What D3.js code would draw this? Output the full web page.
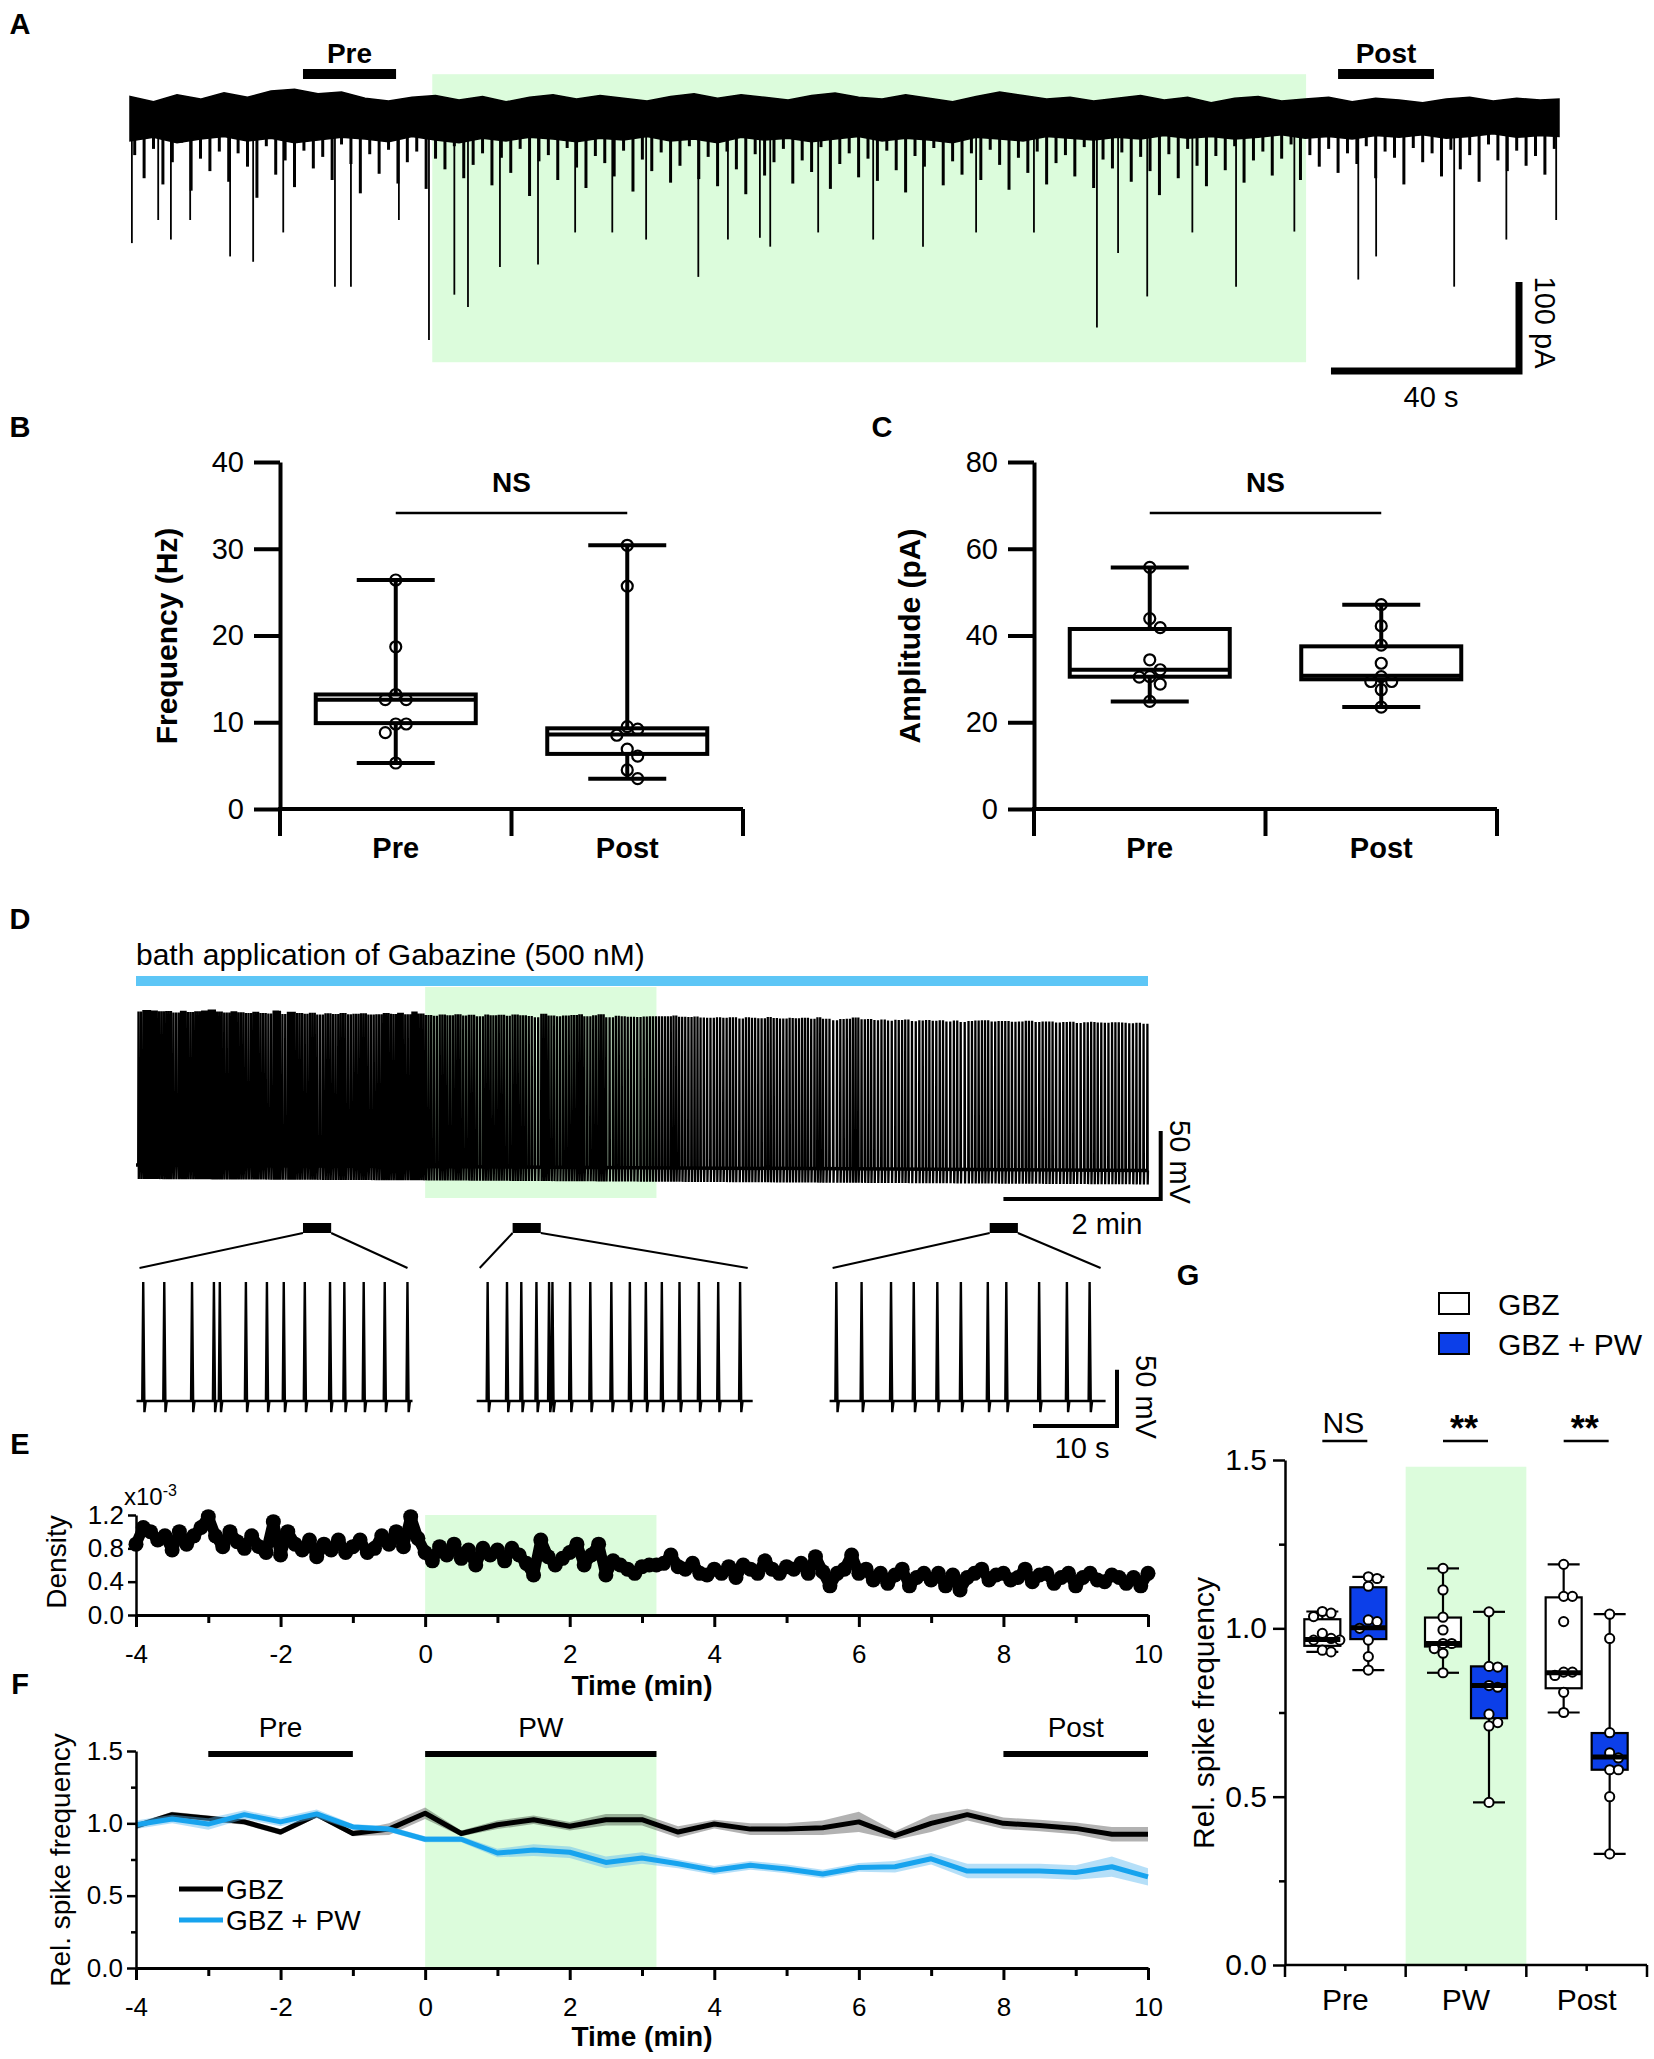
<!DOCTYPE html>
<html>
<head>
<meta charset="utf-8">
<script src="https://cdn.jsdelivr.net/npm/d3@7"></script>
<style>
  body { margin: 0; background: #fff; }
  svg { display: block; font-family: "Liberation Sans", Arial, sans-serif; }
</style>
</head>
<body>
<svg id="fig" width="1654" height="2059"></svg>
<script>
// ---------------- data ----------------
// A: sEPSC trace (time in s, current in pA); envelope every 5 s, small events every 2 s
const aTime = d3.range(0, 301, 5).concat([304]);
const aTop = [4,-2,6,1,8,3,10,12,7,9, 2,-1,3,5,0,4,-2,3,6,1, 5,2,-1,4,7,2,6,3,0,5,
  8,3,1,6,2,-2,4,9,5,1, 3,-1,2,5,0,3,-3,2,4,-1, 1,3,-2,2,0,-3,1,3,-1,2, 0,1];
const aBot = [-46,-42,-48,-44,-41,-46,-43,-48,-45,-42, -44,-47,-41,-45,-48,-43,-46,-42,-44,-47,
  -43,-45,-41,-46,-44,-48,-42,-45,-43,-47, -44,-41,-46,-43,-45,-48,-42,-44,-46,-41,
  -43,-45,-42,-44,-40,-43,-41,-44,-42,-39, -43,-41,-44,-40,-42,-39,-43,-41,-38,-42, -40,-41];
const aSmallStart = 1, aSmallStep = 2;
const aSmall = [
  -62,-88,-55,-95,-70,-48,-102,-66,-80,-58, -92,-60,-75,-110,-52,-84,-68,-98,-57,-77,
  -64,-90,-50,-72,-105,-61,-83,-56,-94,-70, -58,-100,-66,-78,-52,-88,-73,-60,-96,-65,
  -82,-55,-108,-69,-62,-90,-54,-76,-99,-63, -71,-86,-57,-103,-67,-80,-59,-93,-74,-52,
  -89,-64,-97,-58,-78,-106,-61,-85,-70,-55, -94,-68,-81,-53,-100,-72,-60,-87,-66,-91,
  -57,-79,-104,-63,-75,-54,-96,-69,-84,-60, -90,-56,-73,-101,-65,-82,-58,-95,-71,-62,
  -86,-53,-99,-67,-77,-59,-92,-64,-80,-107, -61,-88,-55,-74,-97,-63,-79,-52,-93,-68,
  -58,-85,-66,-50,-90,-62,-75,-55,-82,-60, -72,-52,-88,-58,-65,-95,-54,-70,-60,-86,
  -56,-78,-62,-92,-50,-68,-80,-57,-74,-63, -84,-55
];
const aEvents = [
  [0.4,-161],[6,-135],[8.7,-157],[12.8,-135],[21.3,-176],[26.2,-182],[32.6,-149],[43.6,-210],[47,-210],[57.2,-135],
  [63.6,-270],[69,-219],[71.9,-233],[78.7,-188],[86.8,-185],[94.7,-149],[102.6,-149],[109.8,-157],[120.9,-199],[127.2,-157],
  [134,-155],[136.2,-165],[146.4,-149],[158.1,-157],[168.7,-165],[180,-149],[192.3,-149],[205.7,-256],[210.2,-172],[216.4,-221],
  [226,-149],[235.3,-210],[247.7,-148],[261.3,-202],[265.1,-176],[281.7,-210],[292.8,-157],[303.4,-135]
];
const aWash = [64.3, 250.2];
const aWindows = [["Pre", 36.8, 56.6], ["Post", 257.0, 277.4]];

// B, C: box plots
const bcCats = ["Pre", "Post"];
const freqPre  = [26.4, 18.7, 13.2, 12.6, 12.6, 9.8, 9.8, 8.8, 5.3];
const freqPost = [30.4, 25.7, 9.5, 9.2, 8.5, 6.9, 6.1, 4.5, 3.5];
const freqStats = [[9.9, 12.6, 13.2], [6.35, 8.6, 9.3]];      // q1, median, q3
const ampPre  = [55.7, 43.9, 41.8, 34.4, 32.1, 30.4, 30.5, 28.8, 24.8];
const ampPost = [47.1, 42.2, 37.8, 33.6, 30.5, 29.4, 29.4, 27.5, 23.5];
const ampStats = [[30.5, 32.1, 41.5], [29.9, 30.7, 37.5]];

// E: spike density (x10^-3), one value every 0.1 min from -4 to 10
const eStart = -4, eStep = 0.1;
const eDensity = [
  0.85,1.05,1.0,0.9,0.95,0.78,1.0,0.85,0.95,1.05,
  1.18,0.95,0.82,1.0,0.88,0.8,0.95,0.82,0.75,1.12,
  0.72,1.0,0.85,0.78,0.9,0.7,0.85,0.78,0.9,0.75,
  0.82,0.9,0.75,0.8,0.95,0.85,1.0,0.82,1.18,0.92,
  0.75,0.65,0.82,0.72,0.85,0.68,0.78,0.6,0.8,0.72,
  0.78,0.65,0.8,0.72,0.62,0.48,0.9,0.7,0.6,0.68,
  0.75,0.85,0.6,0.72,0.85,0.48,0.65,0.6,0.55,0.5,
  0.58,0.6,0.6,0.62,0.72,0.58,0.55,0.62,0.5,0.48,
  0.55,0.5,0.58,0.45,0.6,0.55,0.5,0.65,0.55,0.5,
  0.58,0.55,0.62,0.5,0.7,0.52,0.35,0.5,0.55,0.72,
  0.5,0.55,0.42,0.5,0.38,0.48,0.55,0.35,0.45,0.5,
  0.42,0.5,0.35,0.48,0.3,0.45,0.5,0.55,0.42,0.48,
  0.5,0.42,0.45,0.55,0.4,0.48,0.5,0.38,0.45,0.5,
  0.35,0.45,0.5,0.42,0.4,0.48,0.45,0.38,0.45,0.35,
  0.5
];
const timeTicks = [-4,-3,-2,-1,0,1,2,3,4,5,6,7,8,9,10];
const wash = [0, 3.2];   // min

// D: whole-cell trace; baseline / peak drift knots (mV), inset spike times (s)
const dKnotT  = [-4, 0, 3.2, 10];
const dBaseMv = [-60, -61, -62, -64];
const dPeakMv = [52, 50, 50, 46];
const insetWindows = [[-1.69, -1.30], [1.21, 1.60], [7.81, 8.20]];
const insetSpikes = [
  [0.8,3.3,6.6,9.2,9.9,13.0,15.5,17.5,20.0,23.0,24.7,27.0,29.5,32.2],
  [1.3,3.6,5.3,7.1,8.6,9.0,11.1,13.5,16.0,18.2,20.1,22.0,24.1,26.4,28.7,31.3],
  [0.8,3.8,7.3,10.0,12.8,15.6,18.8,21.0,24.9,28.2,30.9]
];

// F: relative spike frequency, mean and SEM every 0.5 min
const fTime = [-4,-3.5,-3,-2.5,-2,-1.5,-1,-0.5,0,0.5,1,1.5,2,2.5,3,3.5,4,4.5,5,5.5,6,6.5,7,7.5,8,8.5,9,9.5,10];
const gbzMean = [0.98,1.06,1.035,1.01,0.94,1.06,0.93,0.96,1.07,0.93,0.99,1.025,0.98,1.025,1.025,0.94,0.995,0.96,0.96,0.97,1.01,0.915,1.0,1.06,1.0,0.985,0.965,0.925,0.925];
const gbzSem  = [0.02,0.02,0.02,0.02,0.02,0.02,0.02,0.04,0.04,0.02,0.03,0.03,0.03,0.04,0.04,0.04,0.03,0.04,0.04,0.05,0.07,0.03,0.06,0.04,0.04,0.04,0.04,0.05,0.05];
const pwMean  = [0.99,1.03,0.995,1.06,1.01,1.065,0.975,0.96,0.89,0.89,0.795,0.815,0.80,0.73,0.76,0.72,0.675,0.71,0.685,0.65,0.695,0.70,0.755,0.67,0.67,0.67,0.66,0.70,0.63];
const pwSem   = [0.03,0.03,0.04,0.03,0.03,0.03,0.02,0.02,0.02,0.02,0.03,0.04,0.04,0.04,0.04,0.03,0.03,0.03,0.03,0.03,0.03,0.04,0.04,0.05,0.05,0.05,0.05,0.07,0.06];
const fPeriods = [["Pre", -3, -1], ["PW", 0, 3.2], ["Post", 8, 10]];
const seriesNames = ["GBZ", "GBZ + PW"];

// G: grouped box plots
const gGroups = ["Pre", "PW", "Post"];
const gbzPts = [
  [1.05,1.045,1.035,0.985,0.97,0.965,0.965,0.935,0.93],
  [1.178,1.114,1.033,0.995,0.955,0.955,0.94,0.926,0.868],
  [1.19,1.095,1.095,1.02,0.87,0.87,0.86,0.81,0.75]
];
const gbzPwPts = [
  [1.153,1.148,1.125,1.025,1.02,1.0,0.965,0.916,0.876],
  [1.049,0.887,0.885,0.83,0.825,0.745,0.72,0.71,0.483],
  [1.042,0.97,0.69,0.63,0.615,0.58,0.58,0.5,0.33]
];
const gbzStats   = [[0.948,0.967,1.027],[0.946,0.955,1.032],[0.822,0.868,1.092]];
const gbzPwStats = [[0.968,1.002,1.122],[0.733,0.83,0.887],[0.58,0.618,0.689]];
const gSig = ["NS", "**", "**"];

// ---------------- drawing ----------------
const FONT = '"Liberation Sans", Arial, sans-serif';
const GREEN = '#dcfcdc';
const svg = d3.select('#fig');
svg.append('rect').attr('width', 1654).attr('height', 2059).attr('fill', '#fff');

function txt(x, y, s, o = {}) {
  const t = svg.append('text').attr('x', x).attr('y', y)
    .attr('font-size', o.size || 29)
    .attr('font-weight', o.bold ? 'bold' : 'normal')
    .attr('text-anchor', o.anchor || 'middle')
    .attr('dominant-baseline', 'central')
    .attr('fill', '#000')
    .text(s);
  if (o.rot) t.attr('transform', `rotate(${o.rot},${x},${y})`);
  return t;
}
function styleAxis(a, size, sw) {
  a.attr('font-family', FONT).attr('font-size', size);
  a.selectAll('path,line').attr('stroke', '#000').attr('stroke-width', sw);
  a.selectAll('text').attr('fill', '#000');
}
function line(g, x1, y1, x2, y2, w) {
  return g.append('line').attr('x1', x1).attr('y1', y1).attr('x2', x2).attr('y2', y2)
    .attr('stroke', '#000').attr('stroke-width', w);
}
// simple dodge so overlapping points spread sideways
function dodge(vals, yScale, r) {
  const placed = [], out = new Array(vals.length);
  d3.range(vals.length).sort((a, b) => vals[b] - vals[a]).forEach(i => {
    const y = yScale(vals[i]);
    for (let k = 0; k < 30; k++) {
      const dx = k === 0 ? 0 : (k % 2 ? 1 : -1) * Math.ceil(k / 2) * r * 1.9;
      if (placed.every(p => Math.hypot(p[0] - dx, p[1] - y) >= r * 1.9)) {
        out[i] = dx; placed.push([dx, y]); break;
      }
    }
  });
  return out;
}

// panel letters
[['A',20,24],['B',20,427],['C',882,427],['D',20,919],['E',20,1444],['F',20,1684],['G',1188,1275]]
  .forEach(d => txt(d[1], d[2], d[0], { size: 29, bold: true }));

// ---------- A ----------
const aX = d3.scaleLinear().domain([0, 304]).range([130, 1559]);
const aY = d3.scaleLinear().domain([-270, 0]).range([340, 100]);
const gA = svg.append('g');
gA.append('rect').attr('x', aX(aWash[0])).attr('y', aY(29))
  .attr('width', aX(aWash[1]) - aX(aWash[0])).attr('height', aY(-295) - aY(29)).attr('fill', GREEN);
gA.selectAll('line.sm').data(aSmall).join('line').attr('class', 'sm')
  .attr('x1', (d, i) => aX(aSmallStart + i * aSmallStep)).attr('x2', (d, i) => aX(aSmallStart + i * aSmallStep))
  .attr('y1', aY(-20)).attr('y2', d => aY(d))
  .attr('stroke', '#000').attr('stroke-width', 3);
gA.selectAll('line.ev').data(aEvents).join('line').attr('class', 'ev')
  .attr('x1', d => aX(d[0])).attr('x2', d => aX(d[0]))
  .attr('y1', aY(-20)).attr('y2', d => aY(d[1]))
  .attr('stroke', '#000').attr('stroke-width', 1.8);
gA.append('path').datum(aTime)
  .attr('d', d3.area().x(t => aX(t)).y0((t, i) => aY(aBot[i])).y1((t, i) => aY(aTop[i])))
  .attr('fill', '#000').attr('stroke', '#000').attr('stroke-width', 1.5);
aWindows.forEach(w => {
  gA.append('rect').attr('x', aX(w[1])).attr('y', 69).attr('width', aX(w[2]) - aX(w[1])).attr('height', 10).attr('fill', '#000');
  txt((aX(w[1]) + aX(w[2])) / 2, 53, w[0], { bold: true, size: 28 });
});
{
  const xr = 1519, yb = 371;
  const w = aX(40) - aX(0), h = aY(-100) - aY(0);
  gA.append('path').attr('d', `M${xr - w},${yb} H${xr} V${yb - h}`)
    .attr('fill', 'none').attr('stroke', '#000').attr('stroke-width', 7);
  txt(1545, yb - h / 2 - 4, '100 pA', { rot: 90, size: 29 });
  txt(xr - w / 2 + 6, 397, '40 s', { size: 29 });
}

// ---------- B, C ----------
function boxPanel(o) {
  const y = d3.scaleLinear().domain([0, o.yMax]).range([809, 462]);
  const g = svg.append('g');
  g.append('g').attr('transform', `translate(${o.x0},0)`)
    .call(d3.axisLeft(y).tickValues(o.ticks).tickSize(26).tickSizeOuter(0).tickPadding(10))
    .call(a => styleAxis(a, 29, 4));
  const mid = (o.x0 + o.x1) / 2;
  line(g, o.x0 - 2, y(0), o.x1, y(0), 4);
  [o.x0, mid, o.x1].forEach(x => line(g, x, y(0), x, y(0) + 27, 4));
  const centers = [(o.x0 + mid) / 2, (mid + o.x1) / 2];
  bcCats.forEach((c, i) => {
    const cx = centers[i], st = o.stats[i], pts = o.points[i];
    txt(cx, 848, c, { bold: true, size: 29 });
    const mn = d3.min(pts), mx = d3.max(pts);
    line(g, cx, y(mx), cx, y(st[2]), 4);
    line(g, cx, y(st[0]), cx, y(mn), 4);
    line(g, cx - 39, y(mx), cx + 39, y(mx), 4);
    line(g, cx - 39, y(mn), cx + 39, y(mn), 4);
    g.append('rect').attr('x', cx - 80).attr('y', y(st[2])).attr('width', 160)
      .attr('height', y(st[0]) - y(st[2])).attr('fill', 'none').attr('stroke', '#000').attr('stroke-width', 4);
    line(g, cx - 80, y(st[1]), cx + 80, y(st[1]), 4);
    const off = dodge(pts, y, 5.5);
    g.selectAll(null).data(pts).join('circle')
      .attr('cx', (d, j) => cx + off[j]).attr('cy', d => y(d)).attr('r', 5.5)
      .attr('fill', 'none').attr('stroke', '#000').attr('stroke-width', 2.2);
  });
  line(g, centers[0], 513, centers[1], 513, 2.5);
  txt((centers[0] + centers[1]) / 2, 482, 'NS', { bold: true, size: 28 });
  txt(o.labelX, 636, o.title, { bold: true, size: 30, rot: -90 });
}
boxPanel({ x0: 280, x1: 743, yMax: 40, ticks: [0, 10, 20, 30, 40], stats: freqStats,
  points: [freqPre, freqPost], title: 'Frequency (Hz)', labelX: 166 });
boxPanel({ x0: 1034, x1: 1497, yMax: 80, ticks: [0, 20, 40, 60, 80], stats: ampStats,
  points: [ampPre, ampPost], title: 'Amplitude (pA)', labelX: 909 });

// shared time scale for D, E, F
const tX = d3.scaleLinear().domain([-4, 10]).range([136, 1148]);
const eTimes = eDensity.map((d, i) => eStart + i * eStep);

// ---------- D ----------
const gD = svg.append('g');
txt(136, 954, 'bath application of Gabazine (500 nM)', { anchor: 'start', size: 30 });
gD.append('rect').attr('x', tX(-4)).attr('y', 976).attr('width', tX(10) - tX(-4)).attr('height', 10).attr('fill', '#5dc6f6');
gD.append('rect').attr('x', tX(wash[0])).attr('y', 987).attr('width', tX(wash[1]) - tX(wash[0])).attr('height', 211).attr('fill', GREEN);
{
  const dY = d3.scaleLinear().domain([-60, 52]).range([1165, 1012.7]);
  const baseAt = d3.scaleLinear().domain(dKnotT).range(dBaseMv);
  const peakAt = d3.scaleLinear().domain(dKnotT).range(dPeakMv);
  // spike times follow the firing density of panel E
  const spikes = [];
  let acc = 0;
  for (let i = 0; i < eDensity.length - 1; i++) {
    const n = (12 + 20 * eDensity[i]) * eStep;
    let next = Math.floor(acc) + 1;
    while (next <= acc + n) { spikes.push([eTimes[i] + (next - acc) / n * eStep, eDensity[i]]); next++; }
    acc += n;
  }
  let p = '';
  spikes.forEach(s => {
    const t = s[0], x = tX(t), yb = dY(baseAt(t));
    const top = dY(peakAt(t) + (s[1] - 0.7) * 6);
    p += ` M${x - 0.3},${yb} L${x},${top} L${x + 0.3},${yb + 14} L${x + 0.6},${yb}`;
  });
  gD.append('path').attr('d', p).attr('fill', 'none').attr('stroke', '#000').attr('stroke-width', 2.3);
  gD.append('path').attr('d', `M${tX(-4)},${dY(baseAt(-4))} L${tX(10)},${dY(baseAt(10))}`)
    .attr('fill', 'none').attr('stroke', '#000').attr('stroke-width', 3.5);
  gD.append('path').attr('d', `M${tX(10) - (tX(2) - tX(0))},1199 H1160.7 V1131`)
    .attr('fill', 'none').attr('stroke', '#000').attr('stroke-width', 4);
  txt(1107, 1224, '2 min', { size: 29 });
  txt(1180, 1162, '50 mV', { size: 29, rot: 90 });
}
// insets
{
  const lefts = [136.5, 476.7, 829.6];
  const iY = d3.scaleLinear().domain([-60, 46]).range([1401, 1282]);
  insetSpikes.forEach((sp, k) => {
    const iX = d3.scaleLinear().domain([0, 32.8]).range([lefts[k], lefts[k] + 276]);
    const w = insetWindows[k];
    gD.append('rect').attr('x', tX(w[0])).attr('y', 1223).attr('width', tX(w[1]) - tX(w[0])).attr('height', 10).attr('fill', '#000');
    line(gD, tX(w[0]), 1233, iX(0) + 3, 1268, 2);
    line(gD, tX(w[1]), 1233, iX(32.8) - 5, 1268, 2);
    let p = `M${iX(0)},${iY(-60)} H${iX(32.8)}`;
    sp.forEach(t => {
      const x = iX(t);
      p += ` M${x - 1},${iY(-60)} L${x},${iY(46)} L${x + 1.2},${iY(-70)} L${x + 2.5},${iY(-60)}`;
    });
    gD.append('path').attr('d', p).attr('fill', 'none').attr('stroke', '#000').attr('stroke-width', 2.4);
  });
  gD.append('path').attr('d', `M1033,1426 H1117 V${1426 - (iY(-10) - iY(40))}`)
    .attr('fill', 'none').attr('stroke', '#000').attr('stroke-width', 4);
  txt(1082, 1448, '10 s', { size: 29 });
  txt(1146, 1397, '50 mV', { size: 29, rot: 90 });
}

// ---------- E ----------
const eY = d3.scaleLinear().domain([0, 1.2]).range([1615, 1515]);
const gE = svg.append('g');
gE.append('rect').attr('x', tX(wash[0])).attr('y', eY(1.2)).attr('width', tX(wash[1]) - tX(wash[0]))
  .attr('height', eY(0) - eY(1.2)).attr('fill', GREEN);
gE.append('path').datum(eDensity)
  .attr('d', d3.line().x((d, i) => tX(eTimes[i])).y(d => eY(d)))
  .attr('fill', 'none').attr('stroke', '#000').attr('stroke-width', 11).attr('stroke-linejoin', 'round');
gE.selectAll(null).data(eDensity).join('circle')
  .attr('cx', (d, i) => tX(eTimes[i])).attr('cy', d => eY(d)).attr('r', 7.5).attr('fill', '#000');
gE.append('g').attr('transform', 'translate(136,0)')
  .call(d3.axisLeft(eY).tickValues([0, 0.4, 0.8, 1.2]).tickFormat(d3.format('.1f')).tickSize(8).tickSizeOuter(0).tickPadding(4))
  .call(a => styleAxis(a, 26, 2.5));
gE.append('g').attr('transform', `translate(0,${eY(0)})`)
  .call(d3.axisBottom(tX).tickValues(timeTicks).tickFormat(d => d % 2 === 0 ? String(d) : '').tickSize(12).tickSizeOuter(0).tickPadding(18))
  .call(a => { styleAxis(a, 26, 3); a.selectAll('.tick line').attr('y2', d => d % 2 === 0 ? 12 : 8); });
txt(56, 1562, 'Density', { size: 28, rot: -90 });
svg.append('text').attr('x', 124).attr('y', 1505).attr('font-size', 24).attr('fill', '#000')
  .text('x10').append('tspan').attr('dy', -9).attr('font-size', 16).text('-3');
txt(642, 1685, 'Time (min)', { bold: true, size: 28 });

// ---------- F ----------
const fY = d3.scaleLinear().domain([0, 1.5]).range([1968, 1751]);
const gF = svg.append('g');
gF.append('rect').attr('x', tX(wash[0])).attr('y', fY(1.5)).attr('width', tX(wash[1]) - tX(wash[0]))
  .attr('height', fY(0) - fY(1.5)).attr('fill', GREEN);
const band = (m, s) => d3.area().x((d, i) => tX(fTime[i])).y0((d, i) => fY(m[i] - s[i])).y1((d, i) => fY(m[i] + s[i]));
const trace = m => d3.line().x((d, i) => tX(fTime[i])).y((d, i) => fY(m[i]));
gF.append('path').datum(fTime).attr('d', band(gbzMean, gbzSem)).attr('fill', 'rgba(0,0,0,0.3)');
gF.append('path').datum(fTime).attr('d', trace(gbzMean)).attr('fill', 'none').attr('stroke', '#000').attr('stroke-width', 5).attr('stroke-linejoin', 'round');
gF.append('path').datum(fTime).attr('d', band(pwMean, pwSem)).attr('fill', 'rgba(90,185,240,0.45)');
gF.append('path').datum(fTime).attr('d', trace(pwMean)).attr('fill', 'none').attr('stroke', '#17a3ee').attr('stroke-width', 5).attr('stroke-linejoin', 'round');
fPeriods.forEach(p => {
  gF.append('rect').attr('x', tX(p[1])).attr('y', 1751).attr('width', tX(p[2]) - tX(p[1])).attr('height', 6).attr('fill', '#000');
  txt((tX(p[1]) + tX(p[2])) / 2, 1727, p[0], { size: 28 });
});
gF.append('g').attr('transform', 'translate(136,0)')
  .call(d3.axisLeft(fY).tickValues([0, 0.25, 0.5, 0.75, 1, 1.25, 1.5]).tickFormat(d => d % 0.5 === 0 ? d.toFixed(1) : '').tickSize(9).tickSizeOuter(0).tickPadding(4))
  .call(a => { styleAxis(a, 26, 2.5); a.selectAll('.tick line').attr('x2', d => d % 0.5 === 0 ? -9 : -5); });
gF.append('g').attr('transform', `translate(0,${fY(0)})`)
  .call(d3.axisBottom(tX).tickValues(timeTicks).tickFormat(d => d % 2 === 0 ? String(d) : '').tickSize(12).tickSizeOuter(0).tickPadding(18))
  .call(a => { styleAxis(a, 26, 3); a.selectAll('.tick line').attr('y2', d => d % 2 === 0 ? 12 : 8); });
[['#000', 1889], ['#17a3ee', 1920]].forEach((s, i) => {
  gF.append('line').attr('x1', 179).attr('x2', 223).attr('y1', s[1]).attr('y2', s[1]).attr('stroke', s[0]).attr('stroke-width', 5);
  txt(226, s[1], seriesNames[i], { anchor: 'start', size: 28 });
});
txt(60, 1860, 'Rel. spike frequency', { size: 28, rot: -90 });
txt(642, 2036, 'Time (min)', { bold: true, size: 28 });

// ---------- G ----------
const gY = d3.scaleLinear().domain([0, 1.5]).range([1965, 1460]);
const gX = d3.scaleBand().domain(gGroups).range([1285, 1647]).padding(0);
const gG = svg.append('g');
gG.append('rect').attr('x', gX('PW')).attr('y', gY(1.48)).attr('width', gX.bandwidth())
  .attr('height', gY(0) - gY(1.48)).attr('fill', GREEN);
gG.append('g').attr('transform', 'translate(1285,0)')
  .call(d3.axisLeft(gY).tickValues([0, 0.25, 0.5, 0.75, 1, 1.25, 1.5]).tickFormat(d => d % 0.5 === 0 ? d.toFixed(1) : '').tickSize(12).tickSizeOuter(0).tickPadding(6))
  .call(a => { styleAxis(a, 30, 2.5); a.selectAll('.tick line').attr('x2', d => d % 0.5 === 0 ? -12 : -6); });
line(gG, 1285, gY(0), 1647, gY(0), 2.5);
gGroups.forEach(gname => {
  const x0 = gX(gname), c = x0 + gX.bandwidth() / 2;
  line(gG, x0 + gX.bandwidth(), gY(0), x0 + gX.bandwidth(), gY(0) + 12, 2.5);
  line(gG, c, gY(0), c, gY(0) + 6, 2.5);
  txt(c, 1999, gname, { size: 30 });
});
line(gG, 1285, gY(0), 1285, gY(0) + 12, 2.5);
function gBox(cx, pts, st, fill) {
  const mn = d3.min(pts), mx = d3.max(pts);
  line(gG, cx, gY(mx), cx, gY(mn), 2.2);
  line(gG, cx - 16, gY(mx), cx + 16, gY(mx), 2.2);
  line(gG, cx - 16, gY(mn), cx + 16, gY(mn), 2.2);
  gG.append('rect').attr('x', cx - 18).attr('y', gY(st[2])).attr('width', 36)
    .attr('height', gY(st[0]) - gY(st[2])).attr('fill', fill).attr('stroke', '#000').attr('stroke-width', 2.2);
  const off = dodge(pts, gY, 4.6);
  gG.selectAll(null).data(pts).join('circle')
    .attr('cx', (d, j) => cx + off[j]).attr('cy', d => gY(d)).attr('r', 4.6)
    .attr('fill', '#fff').attr('stroke', '#000').attr('stroke-width', 2);
  line(gG, cx - 18, gY(st[1]), cx + 18, gY(st[1]), 5);
}
const BLUE = '#0c3fe9';
gGroups.forEach((gname, i) => {
  const c = gX(gname) + gX.bandwidth() / 2;
  gBox(c - 23, gbzPts[i], gbzStats[i], '#fff');
  gBox(c + 23, gbzPwPts[i], gbzPwStats[i], BLUE);
  const sym = gSig[i];
  txt(c - 2, sym === 'NS' ? 1422 : 1428, sym, { size: sym === 'NS' ? 30 : 36, bold: sym !== 'NS' });
  line(gG, c - 23, 1441, c + 22, 1441, 2.5);
});
[['#fff', 1293], [BLUE, 1333]].forEach((s, i) => {
  gG.append('rect').attr('x', 1439).attr('y', s[1]).attr('width', 30).attr('height', 21)
    .attr('fill', s[0]).attr('stroke', '#000').attr('stroke-width', 2);
  txt(1498, s[1] + 11, seriesNames[i], { anchor: 'start', size: 30 });
});
txt(1203, 1713, 'Rel. spike frequency', { size: 30, rot: -90 });
</script>
</body>
</html>
